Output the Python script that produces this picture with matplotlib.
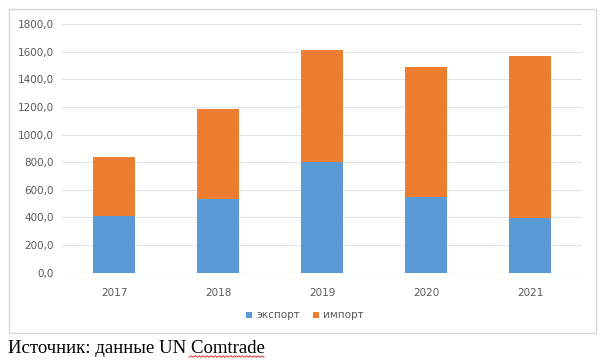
import matplotlib.pyplot as plt
from matplotlib.patches import Rectangle
import numpy as np

# data
years = ["2017", "2018", "2019", "2020", "2021"]
export = [410, 531, 803, 550, 398]
imports = [426, 652, 807, 940, 1171]
yticks = [0, 200, 400, 600, 800, 1000, 1200, 1400, 1600, 1800]

W, H = 613, 360
fig = plt.figure(figsize=(W / 100, H / 100), dpi=100)

# chart frame
fig.patches.append(Rectangle((9 / W, 1 - 333 / H), 587 / W, 324 / H,
                             transform=fig.transFigure, fill=False,
                             edgecolor="#d9d9d9", linewidth=1))

ax = fig.add_axes([62 / W, 1 - 272.7 / H, 520 / W, 248.7 / H])
x = np.arange(len(years))
ax.bar(x, export, width=0.4, color="#5b9bd5", label="экспорт", zorder=3)
ax.bar(x, imports, width=0.4, bottom=export, color="#ed7d31", label="импорт", zorder=3)

ax.set_xlim(-0.5, len(years) - 0.5)
ax.set_ylim(0, 1800)
ax.set_yticks(yticks)
ax.set_yticklabels([f"{v:.1f}".replace(".", ",") for v in yticks])
ax.set_xticks(x)
ax.set_xticklabels(years)
ax.tick_params(length=0, labelsize=7.5, labelcolor="#595959")
ax.tick_params(axis="y", pad=6)
ax.tick_params(axis="x", pad=11)
ax.grid(axis="y", color="#e3e3e3", linewidth=0.8, zorder=0)
for s in ax.spines.values():
    s.set_visible(False)
ax.axhline(0, color="#d9d9d9", linewidth=0.8, zorder=2)

ax.legend(loc="center", bbox_to_anchor=(305 / W, 1 - 315.5 / H),
          bbox_transform=fig.transFigure, ncol=2, frameon=False,
          fontsize=7.5, labelcolor="#595959", handlelength=0.6,
          handleheight=0.6, handletextpad=0.4, columnspacing=1.2)

fig.text(8 / W, 1 - 353 / H, "Источник: данные UN Comtrade",
         family="Liberation Serif", fontsize=13.5, color="black",
         ha="left", va="baseline")

# red spell-check squiggle under "Comtrade"
sx = np.linspace(189, 264, 60)
sy = 356.5 + 0.8 * np.sin(sx * 1.6)
fig.add_artist(plt.Line2D(sx / W, 1 - sy / H, transform=fig.transFigure,
                          color="#e03030", linewidth=0.7))

fig.savefig("out.png", dpi=100)
